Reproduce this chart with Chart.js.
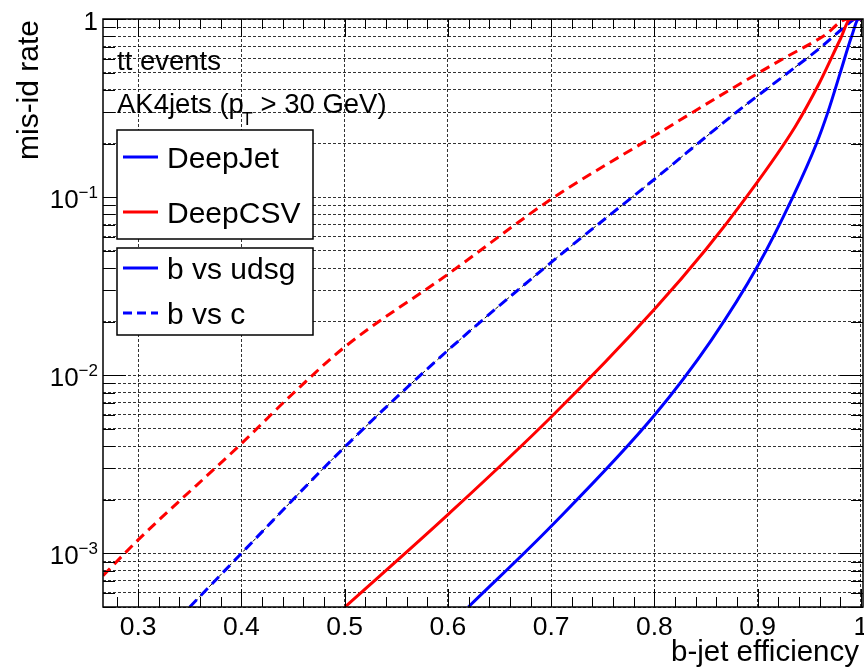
<!DOCTYPE html>
<html>
<head>
<meta charset="utf-8">
<script src="https://cdn.jsdelivr.net/npm/chart.js@4.4.0/dist/chart.umd.min.js"></script>
<style>
  html, body { margin: 0; padding: 0; background: #ffffff; }
  canvas { display: block; }
</style>
</head>
<body>
<canvas id="c" width="864" height="667"></canvas>
<script>
// ---------------- data ----------------
const xAxisTitle = 'b-jet efficiency';
const yAxisTitle = 'mis-id rate';
const xTickValues = [0.3, 0.4, 0.5, 0.6, 0.7, 0.8, 0.9, 1.0];
const xTickLabels = ['0.3', '0.4', '0.5', '0.6', '0.7', '0.8', '0.9', '1'];
const yTickValues = [1e-3, 1e-2, 1e-1, 1];
const yTickBases = ['10', '10', '10', '1'];
const yTickExponents = ['\u22123', '\u22122', '\u22121', ''];

// DeepJet, b vs udsg (blue solid)
const effDeepJetUdsg = [0.6198, 0.700, 0.800, 0.855, 0.900, 0.934, 0.957, 0.968, 0.980, 0.991, 0.998, 1.0];
const misDeepJetUdsg = [5e-4, 1.42e-3, 5.96e-3, 0.0157, 0.041, 0.100, 0.200, 0.300, 0.500, 0.800, 1.0, 1.0];

// DeepCSV, b vs udsg (red solid)
const effDeepCSVUdsg = [0.5004, 0.600, 0.700, 0.800, 0.850, 0.889, 0.936, 0.960, 0.980, 0.990, 1.0];
const misDeepCSVUdsg = [5e-4, 1.65e-3, 5.83e-3, 0.0235, 0.051, 0.100, 0.247, 0.440, 0.770, 1.0, 1.0];

// DeepJet, b vs c (blue dashed)
const effDeepJetC = [0.350, 0.400, 0.500, 0.600, 0.700, 0.800, 0.8795, 0.9295, 0.962, 0.984, 0.9955, 1.0];
const misDeepJetC = [5e-4, 1.0e-3, 3.95e-3, 0.0138, 0.043, 0.126, 0.300, 0.500, 0.700, 0.900, 1.0, 1.0];

// DeepCSV, b vs c (red dashed)
const effDeepCSVC = [0.266, 0.300, 0.400, 0.450, 0.500, 0.600, 0.700, 0.800, 0.873, 0.925, 0.9635, 0.9876, 1.0];
const misDeepCSVC = [7.5e-4, 1.19e-3, 4.13e-3, 7.9e-3, 0.0144, 0.0369, 0.0974, 0.221, 0.400, 0.600, 0.800, 1.0, 1.0];

const taggerNames = ['DeepJet', 'DeepCSV'];
const discrNames = ['b vs udsg', 'b vs c'];
const infoLine1 = 'tt events';
const infoLine2a = 'AK4jets (p';
const infoLine2sub = 'T';
const infoLine2b = ' > 30 GeV)';

// ---------------- helpers ----------------
const BLUE = '#0000ff';
const RED = '#ff0000';
const FONT = '"Liberation Sans", Arial, Helvetica, sans-serif';
const pts = (xs, ys) => xs.map((x, i) => ({ x: x, y: ys[i] }));

function yGridValues() {
  const out = [];
  for (let e = -4; e <= 0; e++) {
    for (let m = 1; m <= 9; m++) {
      const v = m * Math.pow(10, e);
      if (v >= 5e-4 - 1e-12 && v <= 1 + 1e-12) out.push(+v.toPrecision(3));
    }
  }
  return out;
}
function xMinorValues() {
  const out = [];
  for (let k = 14; k <= 50; k++) out.push(k / 50);
  return out;
}

const lineBase = { fill: false, pointRadius: 0, pointHoverRadius: 0, cubicInterpolationMode: 'monotone' };

const datasets = [
  Object.assign({ label: 'DeepJet b vs udsg', data: pts(effDeepJetUdsg, misDeepJetUdsg), borderColor: BLUE, borderWidth: 3 }, lineBase),
  Object.assign({ label: 'DeepCSV b vs udsg', data: pts(effDeepCSVUdsg, misDeepCSVUdsg), borderColor: RED, borderWidth: 3 }, lineBase),
  Object.assign({ label: 'DeepJet b vs c', data: pts(effDeepJetC, misDeepJetC), borderColor: BLUE, borderWidth: 3, borderDash: [10, 6] }, lineBase),
  Object.assign({ label: 'DeepCSV b vs c', data: pts(effDeepCSVC, misDeepCSVC), borderColor: RED, borderWidth: 3, borderDash: [10, 6] }, lineBase),
  Object.assign({ label: 'DeepJet b vs c (outline)', data: pts(effDeepJetC, misDeepJetC), borderColor: '#000000', borderWidth: 1, borderDash: [4, 3] }, lineBase)
];

const decorPlugin = {
  id: 'decor',
  afterDraw(chart) {
    const ctx = chart.ctx;
    const xs = chart.scales.x, ys = chart.scales.y;
    const a = chart.chartArea;
    ctx.save();

    // ticks (inward, all four sides)
    ctx.strokeStyle = '#000';
    ctx.lineWidth = 1;
    ctx.setLineDash([]);
    ctx.beginPath();
    xMinorValues().forEach(v => {
      const px = Math.round(xs.getPixelForValue(v)) + 0.5;
      const major = xTickValues.some(t => Math.abs(t - v) < 1e-9);
      const len = major ? 18 : 10;
      ctx.moveTo(px, a.bottom); ctx.lineTo(px, a.bottom - len);
      ctx.moveTo(px, a.top); ctx.lineTo(px, a.top + len);
    });
    yGridValues().forEach(v => {
      const py = Math.round(ys.getPixelForValue(v)) + 0.5;
      const major = yTickValues.some(t => Math.abs(t - v) / t < 1e-6);
      const len = major ? 23 : 12;
      ctx.moveTo(a.left, py); ctx.lineTo(a.left + len, py);
      ctx.moveTo(a.right, py); ctx.lineTo(a.right - len, py);
    });
    ctx.stroke();

    // frame
    ctx.lineWidth = 1.5;
    ctx.strokeRect(a.left, a.top, a.right - a.left, a.bottom - a.top);

    // x tick labels
    ctx.fillStyle = '#000';
    ctx.font = '26.5px ' + FONT;
    ctx.textAlign = 'center';
    ctx.textBaseline = 'alphabetic';
    xTickValues.forEach((v, i) => {
      ctx.fillText(xTickLabels[i], xs.getPixelForValue(v), 635);
    });

    // y tick labels with superscript exponents
    yTickValues.forEach((v, i) => {
      const py = ys.getPixelForValue(v);
      const right = 98;
      const exp = yTickExponents[i];
      ctx.textAlign = 'right';
      if (exp) {
        ctx.font = '17px ' + FONT;
        const ew = ctx.measureText(exp).width;
        ctx.fillText(exp, right, py + 0.5);
        ctx.font = '26px ' + FONT;
        ctx.fillText(yTickBases[i], right - ew, py + 10.5);
      } else {
        ctx.font = '26px ' + FONT;
        ctx.fillText(yTickBases[i], right, py + 11);
      }
    });

    // axis titles
    ctx.font = '29.5px ' + FONT;
    ctx.textAlign = 'right';
    ctx.fillText(xAxisTitle, 859, 661);
    ctx.save();
    ctx.translate(38, 20);
    ctx.rotate(-Math.PI / 2);
    ctx.textAlign = 'right';
    ctx.font = '30px ' + FONT;
    ctx.fillText(yAxisTitle, 0, 0);
    ctx.restore();

    // info text
    ctx.textAlign = 'left';
    ctx.font = '27.5px ' + FONT;
    ctx.fillText(infoLine1, 117, 70);
    ctx.fillText(infoLine2a, 117, 113);
    let w = ctx.measureText(infoLine2a).width;
    ctx.font = '18px ' + FONT;
    ctx.fillText(infoLine2sub, 117 + w - 2, 125);
    const sw = ctx.measureText(infoLine2sub).width;
    ctx.font = '27.5px ' + FONT;
    ctx.fillText(infoLine2b, 117 + w - 2 + sw, 113);

    // legends
    function box(x, y, wdt, hgt) {
      ctx.fillStyle = '#fff';
      ctx.fillRect(x, y, wdt, hgt);
      ctx.strokeStyle = '#000';
      ctx.lineWidth = 1.5;
      ctx.setLineDash([]);
      ctx.strokeRect(x, y, wdt, hgt);
    }
    function entry(y, color, dash, label) {
      ctx.strokeStyle = color;
      ctx.lineWidth = 3;
      ctx.setLineDash(dash);
      ctx.beginPath();
      ctx.moveTo(123, y); ctx.lineTo(158, y);
      ctx.stroke();
      ctx.setLineDash([]);
      ctx.fillStyle = '#000';
      ctx.font = '30px ' + FONT;
      ctx.textAlign = 'left';
      ctx.fillText(label, 167, y + 11);
    }
    box(117, 130, 196, 109);
    entry(157, BLUE, [], taggerNames[0]);
    entry(212, RED, [], taggerNames[1]);
    box(117, 248, 196, 87);
    entry(268, BLUE, [], discrNames[0]);
    entry(313, BLUE, [9, 5], discrNames[1]);

    ctx.restore();
  }
};

new Chart(document.getElementById('c').getContext('2d'), {
  type: 'line',
  data: { datasets: datasets },
  options: {
    responsive: false,
    animation: false,
    devicePixelRatio: 1,
    layout: { padding: { left: 103, top: 19, right: 1, bottom: 60 } },
    plugins: { legend: { display: false }, tooltip: { enabled: false } },
    scales: {
      x: {
        type: 'linear', min: 0.266, max: 1.002,
        afterFit: s => { s.height = 0; },
        afterBuildTicks: s => { s.ticks = xTickValues.map(v => ({ value: v })); },
        ticks: { display: false },
        grid: { drawTicks: false, color: 'rgba(0,0,0,0.8)', lineWidth: 1 },
        border: { display: false, dash: [3, 2] }
      },
      y: {
        type: 'logarithmic', min: 5e-4, max: 1,
        afterFit: s => { s.width = 0; },
        afterBuildTicks: s => { s.ticks = yGridValues().map(v => ({ value: v })); },
        ticks: { display: false },
        grid: { drawTicks: false, color: 'rgba(0,0,0,0.8)', lineWidth: 1 },
        border: { display: false, dash: [3, 2] }
      }
    }
  },
  plugins: [decorPlugin]
});
</script>
</body>
</html>
